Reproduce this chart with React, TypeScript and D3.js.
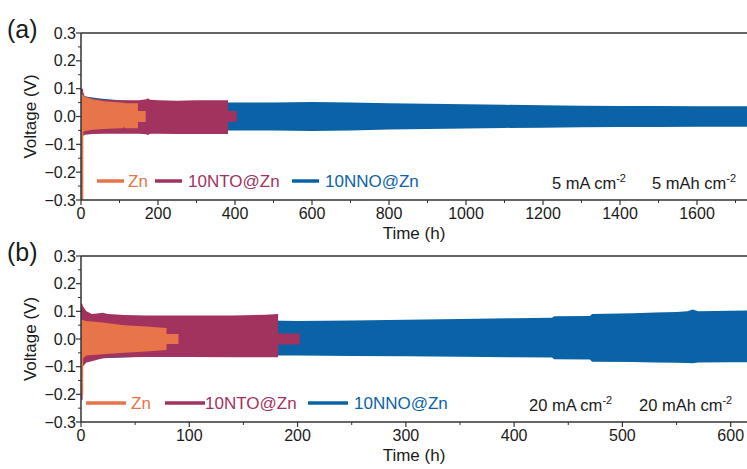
import React from 'react'
import * as d3 from 'd3'

// colours of the three electrodes
const ZN = '#E8744A'
const NTO = '#A2335E'
const NNO = '#0B63A7'

const seriesNames = ['Zn', '10NTO@Zn', '10NNO@Zn']

// ---- panel (a): 5 mA cm-2, envelopes of the voltage band (V) ----
const aZnT = [0, 6, 6, 12, 30, 60, 100, 110, 112, 114, 148, 148, 168]
const aZnUp = [0.08, 0.078, 0.075, 0.07, 0.062, 0.055, 0.05, 0.049, 0.049, 0.048, 0.048, 0.02, 0.02]
const aZnLo = [-0.3, -0.3, -0.056, -0.052, -0.048, -0.045, -0.042, -0.042, -0.036, -0.042, -0.042, -0.02, -0.02]

const aNtoT = [0, 5, 5, 10, 30, 60, 100, 150, 170, 172, 180, 200, 250, 300, 350, 382, 382, 404]
const aNtoUp = [0.1, 0.1, 0.09, 0.072, 0.065, 0.06, 0.058, 0.058, 0.062, 0.066, 0.06, 0.058, 0.057, 0.058, 0.058, 0.058, 0.02, 0.02]
const aNtoLo = [-0.3, -0.3, -0.07, -0.066, -0.063, -0.062, -0.062, -0.062, -0.064, -0.067, -0.062, -0.062, -0.063, -0.063, -0.063, -0.063, -0.02, -0.02]

const aNnoT = [0, 5, 20, 50, 100, 150, 200, 300, 400, 500, 600, 700, 800, 900, 1000, 1100, 1200, 1300, 1400, 1500, 1600, 1700, 1800]
const aNnoUp = [0.085, 0.075, 0.07, 0.065, 0.058, 0.055, 0.052, 0.05, 0.05, 0.05, 0.052, 0.05, 0.048, 0.046, 0.044, 0.042, 0.04, 0.039, 0.038, 0.038, 0.037, 0.037, 0.036]
const aNnoLo = [-0.06, -0.058, -0.056, -0.055, -0.053, -0.05, -0.05, -0.05, -0.05, -0.05, -0.052, -0.05, -0.047, -0.045, -0.043, -0.041, -0.04, -0.039, -0.038, -0.038, -0.037, -0.037, -0.036]

// ---- panel (b): 20 mA cm-2 ----
const bZnT = [0, 2, 2, 5, 20, 40, 60, 79, 79, 90]
const bZnUp = [0.07, 0.07, 0.068, 0.065, 0.06, 0.05, 0.045, 0.04, 0.018, 0.018]
const bZnLo = [-0.2, -0.2, -0.07, -0.06, -0.055, -0.05, -0.045, -0.04, -0.018, -0.018]

const bNtoT = [0, 1.5, 1.5, 5, 10, 15, 20, 25, 40, 60, 100, 140, 170, 182, 182, 202]
const bNtoUp = [0.13, 0.125, 0.12, 0.1, 0.09, 0.092, 0.095, 0.09, 0.087, 0.085, 0.085, 0.085, 0.088, 0.09, 0.02, 0.02]
const bNtoLo = [-0.22, -0.22, -0.1, -0.085, -0.08, -0.075, -0.07, -0.068, -0.066, -0.065, -0.065, -0.066, -0.066, -0.066, -0.02, -0.02]

const bNnoT = [0, 5, 20, 50, 100, 150, 200, 250, 300, 350, 400, 435, 437, 470, 472, 510, 530, 550, 560, 565, 570, 600, 640]
const bNnoUp = [0.09, 0.085, 0.08, 0.075, 0.07, 0.068, 0.065, 0.067, 0.07, 0.072, 0.075, 0.077, 0.082, 0.083, 0.09, 0.093, 0.096, 0.098, 0.1, 0.107, 0.1, 0.102, 0.105]
const bNnoLo = [-0.08, -0.075, -0.07, -0.065, -0.062, -0.06, -0.06, -0.061, -0.062, -0.064, -0.066, -0.067, -0.073, -0.074, -0.082, -0.083, -0.085, -0.086, -0.087, -0.088, -0.085, -0.084, -0.083]

const yTicks = [-0.3, -0.2, -0.1, 0, 0.1, 0.2, 0.3]
const aXTicks = [0, 200, 400, 600, 800, 1000, 1200, 1400, 1600]
const bXTicks = [0, 100, 200, 300, 400, 500, 600]

const FONT = 'Liberation Sans, Arial, sans-serif'
const AXIS = '#333'
const INK = '#1a1a1a'

type Band = { t: number[], up: number[], lo: number[], color: string }

const fmtY = (v: number) => (v < 0 ? '\u2212' : '') + Math.abs(v).toFixed(1)

const Panel = ({ top, bottom, xMax, xTicks, minorStep, bands, label, lineX, lineLen, textX, cond, condX }: {
    top: number, bottom: number, xMax: number, xTicks: number[], minorStep: number,
    bands: Band[], label: string, lineX: number[], lineLen: number, textX: number[], cond: string, condX: number[]
}) => {
    const left = 81, right = 774
    const x = d3.scaleLinear().domain([0, xMax]).range([left, right])
    const y = d3.scaleLinear().domain([-0.3, 0.3]).range([bottom, top])
    const clipId = 'clip-' + label
    const area = d3.area<number>()
    const minorX = d3.range(0, xMax + 1, minorStep).filter(v => !xTicks.includes(v))
    const minorY = d3.range(-0.25, 0.3, 0.1)
    const legY = bottom - 19
    const midY = y(0)
    const legend = bands.slice().reverse()
    return (
        <g fontFamily={FONT}>
            <defs>
                <clipPath id={clipId}><rect x={left} y={top} width={right - left} height={bottom - top} /></clipPath>
            </defs>
            <g clipPath={`url(#${clipId})`}>
                {bands.map((b, i) => {
                    const idx = b.t.map((_, k) => k)
                    area.x(k => x(b.t[k])).y0(k => y(b.lo[k])).y1(k => y(b.up[k]))
                    return <path key={i} d={area(idx) || ''} fill={b.color} />
                })}
            </g>
            {/* frame */}
            <line x1={left} x2={right} y1={top} y2={top} stroke={AXIS} strokeWidth={1.5} />
            <line x1={left} x2={left} y1={top} y2={bottom} stroke={AXIS} strokeWidth={1.5} />
            <line x1={left} x2={right} y1={bottom} y2={bottom} stroke={AXIS} strokeWidth={1.5} />
            {xTicks.map(v => (
                <g key={'x' + v}>
                    <line x1={x(v)} x2={x(v)} y1={bottom} y2={bottom + 5} stroke={AXIS} strokeWidth={1.2} />
                    <text x={x(v)} y={bottom + 19} textAnchor="middle" fontSize={16} fill={INK}>{v}</text>
                </g>
            ))}
            {minorX.map(v => <line key={'mx' + v} x1={x(v)} x2={x(v)} y1={bottom} y2={bottom + 3} stroke={AXIS} strokeWidth={1} />)}
            {yTicks.map(v => (
                <g key={'y' + v}>
                    <line x1={left - 5} x2={left} y1={y(v)} y2={y(v)} stroke={AXIS} strokeWidth={1.2} />
                    <text x={left - 5} y={y(v) + 5.5} textAnchor="end" fontSize={16} fill={INK}>{fmtY(v)}</text>
                </g>
            ))}
            {minorY.map(v => <line key={'my' + v} x1={left - 3} x2={left} y1={y(v)} y2={y(v)} stroke={AXIS} strokeWidth={1} />)}
            <text x={414} y={bottom + 39} textAnchor="middle" fontSize={17} fill={INK}>Time (h)</text>
            <text transform={`translate(36,${midY}) rotate(-90)`} textAnchor="middle" fontSize={17} fill={INK}>Voltage (V)</text>
            <text x={7} y={top + 5} fontSize={25} fill={INK}>({label})</text>
            {/* legend */}
            {legend.map((b, i) => (
                <g key={'lg' + i}>
                    <line x1={lineX[i]} x2={lineX[i] + lineLen} y1={legY} y2={legY} stroke={b.color} strokeWidth={3.5} />
                    <text x={textX[i]} y={legY + 6} fontSize={17} fill={b.color}>{seriesNames[i]}</text>
                </g>
            ))}
            <text x={condX[0]} y={legY + 8} fontSize={16.5} fill={INK}>{cond} mA cm<tspan dy={-7} fontSize={11}>-2</tspan></text>
            <text x={condX[1]} y={legY + 8} fontSize={16.5} fill={INK}>{cond} mAh cm<tspan dy={-7} fontSize={11}>-2</tspan></text>
        </g>
    )
}

const App = () => {
    const aBands: Band[] = [
        { t: aNnoT, up: aNnoUp, lo: aNnoLo, color: NNO },
        { t: aNtoT, up: aNtoUp, lo: aNtoLo, color: NTO },
        { t: aZnT, up: aZnUp, lo: aZnLo, color: ZN },
    ]
    const bBands: Band[] = [
        { t: bNnoT, up: bNnoUp, lo: bNnoLo, color: NNO },
        { t: bNtoT, up: bNtoUp, lo: bNtoLo, color: NTO },
        { t: bZnT, up: bZnUp, lo: bZnLo, color: ZN },
    ]
    return (
        <svg width={747} height={469} style={{ position: 'absolute', left: 0, top: 0, background: '#fff' }}>
            <Panel top={33} bottom={200} xMax={1800} xTicks={aXTicks} minorStep={100} bands={aBands}
                label="a" lineX={[97, 155, 292]} lineLen={27} textX={[128, 188, 325]} cond="5" condX={[552, 652]} />
            <Panel top={256} bottom={422} xMax={640} xTicks={bXTicks} minorStep={50} bands={bBands}
                label="b" lineX={[86, 165, 308]} lineLen={40} textX={[131, 205, 354]} cond="20" condX={[529, 639]} />
        </svg>
    )
}

export default App
